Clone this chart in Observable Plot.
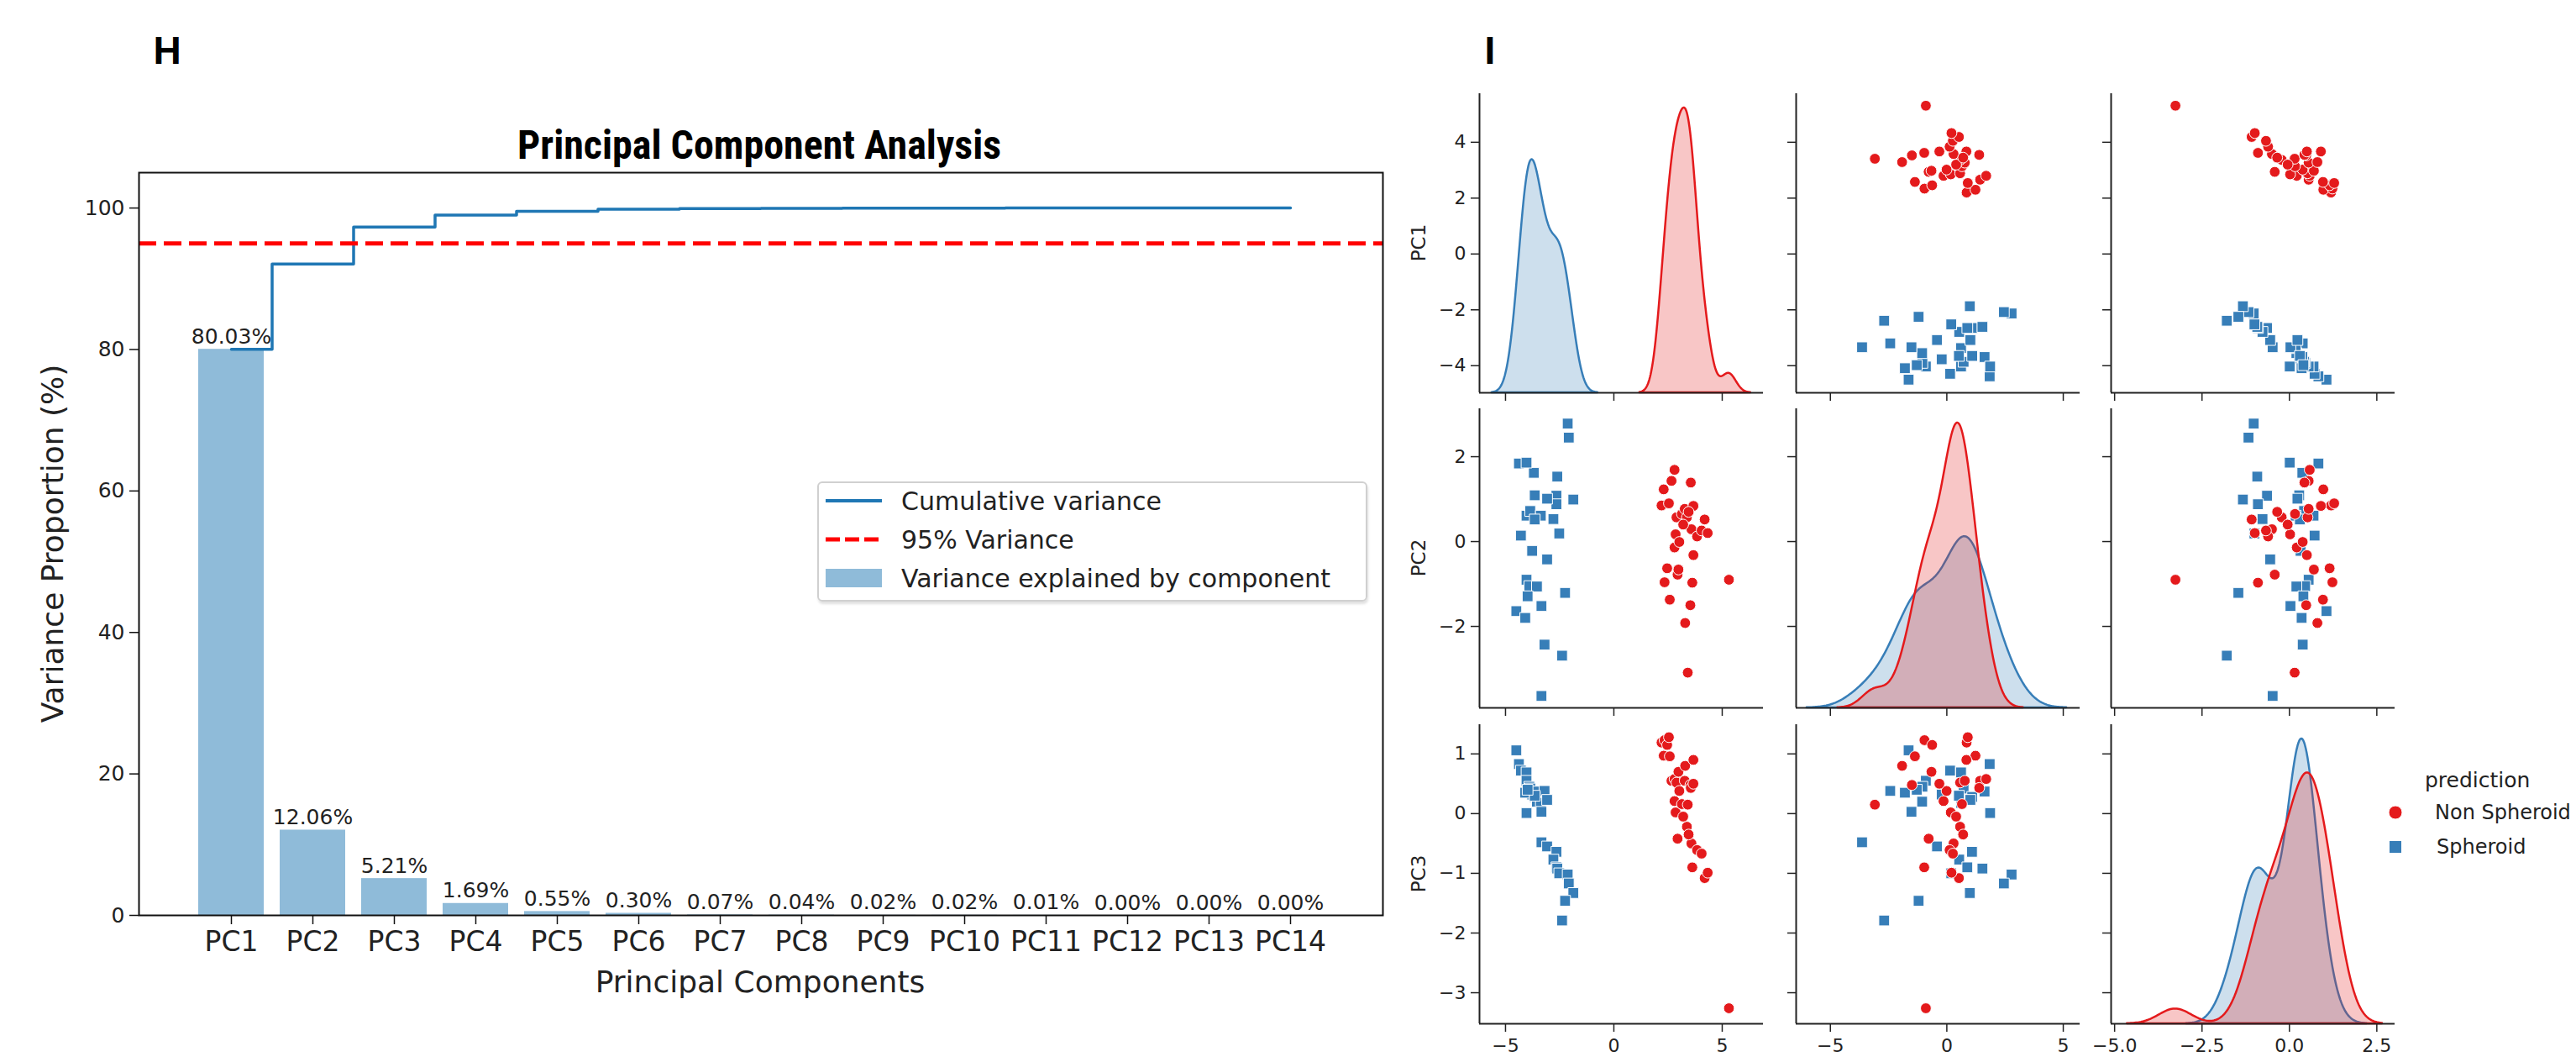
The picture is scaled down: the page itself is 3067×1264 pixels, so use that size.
<!DOCTYPE html>
<html>
<head>
<meta charset="utf-8">
<script src="https://cdn.jsdelivr.net/npm/d3@7"></script>
<script src="https://cdn.jsdelivr.net/npm/@observablehq/plot@0.6"></script>
<style>
  html, body { margin: 0; padding: 0; background: #fff; }
  body { width: 3067px; height: 1264px; position: relative; overflow: hidden; font-family: "DejaVu Sans", sans-serif; color: #222; }
  .abs { position: absolute; white-space: nowrap; }
  .center { transform: translate(-50%, -50%); }
  .rot { transform: translate(-50%, -50%) rotate(-90deg); }
  svg { position: absolute; overflow: visible; }
</style>
</head>
<body>
<div id="root"></div>
<script>
// ---------------- DATA ----------------
// Panel H: principal component analysis
const components = ["PC1","PC2","PC3","PC4","PC5","PC6","PC7","PC8","PC9","PC10","PC11","PC12","PC13","PC14"];
const varianceExplained = [80.03, 12.06, 5.21, 1.69, 0.55, 0.30, 0.07, 0.04, 0.02, 0.02, 0.01, 0.00, 0.00, 0.00];
const varianceThreshold = 95;
const varianceTicks = [0, 20, 40, 60, 80, 100];

// Panel I: pair plot of PC scores by prediction
const predictionClasses = ["Non Spheroid", "Spheroid"];
const nonSpheroidPC1 = [2.20,2.30,2.34,2.46,2.54,2.58,2.66,2.80,2.80,2.85,2.89,2.94,2.98,3.02,3.14,3.27,3.29,3.37,3.41,3.53,3.55,3.58,3.62,3.67,3.67,3.84,4.05,4.19,4.33,5.31,3.20,3.45];
const nonSpheroidPC2 = [0.85,1.23,-0.96,-0.63,0.90,-1.37,1.43,1.69,-0.14,0.17,0.57,-0.78,-0.66,-0.01,0.65,0.77,-1.92,0.57,-3.09,-1.50,1.39,0.29,-0.97,0.84,-0.32,0.12,0.26,0.52,0.20,-0.90,0.40,0.70];
const nonSpheroidPC3 = [1.19,0.97,1.23,1.15,1.28,0.96,0.55,0.58,0.21,0.02,0.52,-0.42,0.70,0.38,0.16,0.55,0.80,-0.22,0.15,0.48,0.43,-0.50,-0.90,0.90,0.50,-0.61,-0.67,-1.08,-0.99,-3.26,-0.05,-0.35];
const spheroidPC1 = [-4.50,-4.38,-4.29,-4.03,-4.03,-3.90,-3.77,-3.86,-3.69,-3.20,-4.09,-3.65,-3.55,-3.37,-3.34,-4.03,-3.34,-3.08,-2.65,-2.79,-2.65,-2.61,-2.52,-2.13,-2.08,-1.87,-2.25,-2.39,-3.08,-3.65,-3.98];
const spheroidPC2 = [-1.64,1.84,0.14,0.61,-0.90,-1.05,-0.22,0.72,1.62,-2.43,-1.80,1.09,-1.06,0.61,-1.52,1.86,-3.64,-0.42,1.08,0.53,0.88,1.53,0.19,2.78,2.45,0.99,-1.21,-2.69,1.01,0.52,-1.29];
const spheroidPC3 = [1.06,0.83,0.72,0.69,0.55,0.45,0.32,0.42,0.37,0.38,0.35,0.28,0.20,0.18,0.03,0.01,-0.48,-0.55,-0.64,-0.77,-0.90,-0.92,-1.00,-1.02,-1.17,-1.33,-1.46,-1.79,0.23,0.30,0.40];

const pairVars = ["PC1", "PC2", "PC3"];
const pc1Ticks = [-4, -2, 0, 2, 4];
const pc2Ticks = [-2, 0, 2];
const pc3Ticks = [-3, -2, -1, 0, 1];
const pc1XTicks = [-5, 0, 5];
const pc2XTicks = [-5, 0, 5];
const pc3XTicks = [-5, -2.5, 0, 2.5];

// ---------------- STYLE / LAYOUT ----------------
const C0 = "#1f77b4";
const BAR = "#8fbbd9";
const RED = "#e41a1c";
const BLUE = "#377eb8";
const INK = "#222";

function addText(txt, x, y, css, cls = "center") {
  const d = document.createElement("div");
  d.className = "abs " + cls;
  d.textContent = txt;
  d.style.left = x + "px";
  d.style.top = y + "px";
  Object.assign(d.style, css);
  document.body.appendChild(d);
  return d;
}
function place(svg, left, top) {
  svg.style.left = left + "px";
  svg.style.top = top + "px";
  document.body.appendChild(svg);
}

// ---------------- PANEL H ----------------
const barData = components.map((c, i) => ({pc: c, v: varianceExplained[i]}));
const cumulative = d3.cumsum(varianceExplained);
const cumData = components.map((c, i) => ({pc: c, v: cumulative[i]}));

const hPlot = Plot.plot({
  width: 1700, height: 1264,
  marginLeft: 165, marginRight: 54, marginTop: 205, marginBottom: 175,
  x: {domain: components, range: [223.3, 1586.7], paddingInner: 0.2, paddingOuter: 0.1, align: 0.5},
  y: {domain: [0, 105]},
  style: {fontFamily: "DejaVu Sans", color: INK, background: "transparent", overflow: "visible"},
  marks: [
    Plot.barY(barData, {x: "pc", y: "v", fill: BAR}),
    Plot.line(cumData, {x: "pc", y: "v", curve: "step", stroke: C0, strokeWidth: 3.5}),
    Plot.ruleY([varianceThreshold], {stroke: "#ff0000", strokeWidth: 5, strokeDasharray: "21,9"}),
    Plot.text(barData, {x: "pc", y: "v", text: d => d.v.toFixed(2) + "%", dy: -7, lineAnchor: "bottom", fontSize: 25, fill: INK}),
    Plot.frame({stroke: "#111", strokeWidth: 2}),
    Plot.axisX({tickSize: 11, tickPadding: 8, fontSize: 33, label: null, stroke: "#111", strokeWidth: 1.5}),
    Plot.axisY({ticks: varianceTicks, tickSize: 11, tickPadding: 6, fontSize: 25, label: null, stroke: "#111", strokeWidth: 1.5})
  ]
});
place(hPlot, 0, 0);

addText("H", 199, 60, {fontFamily: "'Liberation Sans', Arial, sans-serif", fontWeight: "bold", fontSize: "46px", color: "#000"});
addText("Principal Component Analysis", 904, 172, {fontFamily: "'Liberation Sans Narrow', 'Roboto Condensed', 'Liberation Sans', sans-serif", fontWeight: "bold", fontSize: "48px", color: "#000"});
addText("Variance Proportion (%)", 62, 647, {fontSize: "36px", color: INK}, "rot");
addText("Principal Components", 905, 1168, {fontSize: "36px", color: INK});

// legend H
(function () {
  const box = document.createElement("div");
  box.className = "abs";
  Object.assign(box.style, {left: "973px", top: "573px", width: "655px", height: "143px", border: "2px solid #d0d0d0",
    borderRadius: "6px", background: "rgba(255,255,255,0.85)", boxSizing: "border-box", boxShadow: "1px 3px 3px rgba(0,0,0,0.12)"});
  document.body.appendChild(box);
  const ys = [596, 642, 688];
  const labels = ["Cumulative variance", "95% Variance", "Variance explained by component"];
  const ns = "http://www.w3.org/2000/svg";
  const s = document.createElementNS(ns, "svg");
  s.setAttribute("width", 80); s.setAttribute("height", 143);
  s.style.left = "975px"; s.style.top = "573px";
  const l1 = document.createElementNS(ns, "line");
  Object.entries({x1: 8, x2: 75, y1: ys[0] - 573, y2: ys[0] - 573, stroke: C0, "stroke-width": 4}).forEach(([k, v]) => l1.setAttribute(k, v));
  const l2 = document.createElementNS(ns, "line");
  Object.entries({x1: 8, x2: 75, y1: ys[1] - 573, y2: ys[1] - 573, stroke: "#ff0000", "stroke-width": 5, "stroke-dasharray": "17,6"}).forEach(([k, v]) => l2.setAttribute(k, v));
  const r = document.createElementNS(ns, "rect");
  Object.entries({x: 8, y: ys[2] - 573 - 11, width: 67, height: 22, fill: BAR}).forEach(([k, v]) => r.setAttribute(k, v));
  s.append(l1, l2, r);
  document.body.appendChild(s);
  labels.forEach((t, i) => addText(t, 1073, ys[i], {fontSize: "30px", color: INK, transform: "translate(0,-50%)"}, ""));
})();

// ---------------- PANEL I ----------------
const nonSpheroid = nonSpheroidPC1.map((v, i) => ({PC1: v, PC2: nonSpheroidPC2[i], PC3: nonSpheroidPC3[i], prediction: predictionClasses[0]}));
const spheroid = spheroidPC1.map((v, i) => ({PC1: v, PC2: spheroidPC2[i], PC3: spheroidPC3[i], prediction: predictionClasses[1]}));
const Ntotal = nonSpheroid.length + spheroid.length;

const colDomain = {PC1: [-6.20, 6.90], PC2: [-6.47, 5.72], PC3: [-5.10, 3.02]};
const rowDomain = {PC1: [-4.97, 5.74], PC2: [-3.92, 3.13], PC3: [-3.52, 1.49]};
const rowTicks = {PC1: pc1Ticks, PC2: pc2Ticks, PC3: pc3Ticks};
const colTicks = {PC1: pc1XTicks, PC2: pc2XTicks, PC3: pc3XTicks};
const colFormat = {PC1: d3.format("d"), PC2: d3.format("d"), PC3: d3.format(".1f")};
const colLeft = {PC1: 1761, PC2: 2138, PC3: 2513};
const rowTop = {PC1: 111, PC2: 486, PC3: 862};
const PW = 338, PH = 356;

// Gaussian KDE (Scott's rule, cut = 3, common normalisation) computed from the points
function kde(values) {
  const n = values.length;
  const h = d3.deviation(values) * Math.pow(n, -1 / 5);
  const lo = d3.min(values) - 3 * h, hi = d3.max(values) + 3 * h;
  const out = [];
  for (let i = 0; i < 200; i++) {
    const x = lo + (hi - lo) * i / 199;
    let s = 0;
    for (const v of values) { const u = (x - v) / h; s += Math.exp(-0.5 * u * u); }
    out.push({x, d: s / (Ntotal * h * Math.sqrt(2 * Math.PI))});
  }
  return out;
}

const ML = 90, MR = 12, MT = 12, MB = 70;
pairVars.forEach((rv, ri) => {
  pairVars.forEach((cv, ci) => {
    const xd = colDomain[cv], yd = rowDomain[rv];
    let marks;
    if (ri === ci) {
      const kr = kde(nonSpheroid.map(d => d[cv]));
      const kb = kde(spheroid.map(d => d[cv]));
      const top = d3.max([...kr, ...kb], d => d.d) * 1.05;
      const toRow = arr => arr.map(p => ({x: p.x, y: yd[0] + p.d / top * (yd[1] - yd[0])}));
      marks = [
        Plot.areaY(toRow(kb), {x: "x", y1: yd[0], y2: "y", fill: BLUE, fillOpacity: 0.25, stroke: BLUE, strokeWidth: 2.5}),
        Plot.areaY(toRow(kr), {x: "x", y1: yd[0], y2: "y", fill: RED, fillOpacity: 0.25, stroke: RED, strokeWidth: 2.5})
      ];
    } else {
      marks = [
        Plot.dot(spheroid, {x: cv, y: rv, symbol: "square", r: 7.2, fill: BLUE, stroke: "white", strokeWidth: 1}),
        Plot.dot(nonSpheroid, {x: cv, y: rv, symbol: "circle", r: 6.4, fill: RED, stroke: "white", strokeWidth: 1})
      ];
    }
    const svg = Plot.plot({
      width: PW + ML + MR, height: PH + MT + MB,
      marginLeft: ML, marginRight: MR, marginTop: MT, marginBottom: MB,
      x: {domain: xd}, y: {domain: yd},
      style: {fontFamily: "DejaVu Sans", color: INK, background: "transparent", overflow: "visible"},
      marks: [
        ...marks,
        Plot.ruleX([xd[0]], {stroke: "#222", strokeWidth: 2}),
        Plot.ruleY([yd[0]], {stroke: "#222", strokeWidth: 2}),
        Plot.axisX({ticks: colTicks[cv], tickSize: 10, tickPadding: 8, fontSize: 22, label: null, strokeWidth: 1.5,
          tickFormat: ri === 2 ? colFormat[cv] : () => ""}),
        Plot.axisY({ticks: rowTicks[rv], tickSize: 10, tickPadding: 6, fontSize: 22, label: null, strokeWidth: 1.5,
          tickFormat: ci === 0 ? d3.format("d") : () => ""})
      ]
    });
    place(svg, colLeft[cv] - ML, rowTop[rv] - MT);
  });
});

addText("I", 1774, 60, {fontFamily: "'Liberation Sans', Arial, sans-serif", fontWeight: "bold", fontSize: "46px", color: "#000"});
pairVars.forEach(v => addText(v, 1689, rowTop[v] + PH / 2, {fontSize: "23px", color: INK}, "rot"));

// legend I
(function () {
  addText("prediction", 2887, 928, {fontSize: "25px", color: INK, transform: "translate(0,-50%)"}, "");
  const ns = "http://www.w3.org/2000/svg";
  const s = document.createElementNS(ns, "svg");
  s.setAttribute("width", 40); s.setAttribute("height", 80);
  s.style.left = "2832px"; s.style.top = "947px";
  const c = document.createElementNS(ns, "circle");
  Object.entries({cx: 20, cy: 20, r: 8, fill: RED, stroke: "white", "stroke-width": 1}).forEach(([k, v]) => c.setAttribute(k, v));
  const q = document.createElementNS(ns, "rect");
  Object.entries({x: 12.5, y: 53.5, width: 15, height: 15, fill: BLUE, stroke: "white", "stroke-width": 1}).forEach(([k, v]) => q.setAttribute(k, v));
  s.append(c, q);
  document.body.appendChild(s);
  addText(predictionClasses[0], 2899, 967, {fontSize: "24px", color: INK, transform: "translate(0,-50%)"}, "");
  addText(predictionClasses[1], 2901, 1008, {fontSize: "24px", color: INK, transform: "translate(0,-50%)"}, "");
})();
</script>
</body>
</html>
